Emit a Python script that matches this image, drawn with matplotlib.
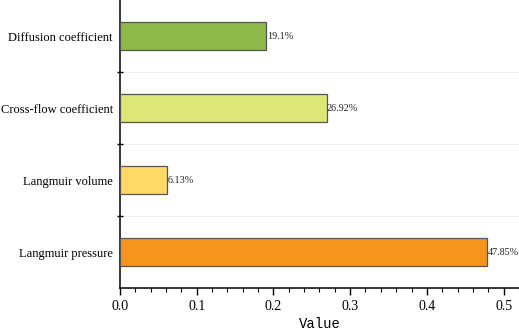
import matplotlib
matplotlib.use("Agg")
import matplotlib.pyplot as plt
from matplotlib.ticker import MultipleLocator, FixedLocator

# Datos (de abajo hacia arriba)
categories = ["Langmuir pressure", "Langmuir volume", "Cross-flow coefficient", "Diffusion coefficient"]
values = [0.4785, 0.0613, 0.2692, 0.191]
labels = ["47.85%", "6.13%", "26.92%", "19.1%"]
colors = ["#F7941D", "#FFD966", "#DCE775", "#8DB84A"]

plt.rcParams["font.family"] = ["Liberation Serif", "DejaVu Serif"]

fig = plt.figure(figsize=(5.19, 3.30), dpi=100)
ax = fig.add_axes([0.231, 0.127, 0.769, 0.873])

ypos = list(range(len(categories)))
ax.barh(ypos, values, height=0.4, color=colors, edgecolor="#555555", linewidth=0.9, zorder=3)
for y, v, t in zip(ypos, values, labels):
    ax.text(v + 0.0005, y, t, ha="left", va="center", fontsize=7.3, color="#222222", zorder=4)

ax.set_xlim(0, 0.52)
ax.set_ylim(-0.5, 3.5)
ax.set_yticks(ypos)
ax.set_yticklabels(categories, fontsize=9)
ax.tick_params(axis="y", which="major", length=0, pad=5)
ax.yaxis.set_minor_locator(FixedLocator([0.5, 1.5, 2.5]))
ax.tick_params(axis="y", which="minor", length=5, width=1, direction="inout")
ax.grid(axis="y", which="minor", color="#eeeeee", linewidth=0.8, zorder=0)

ax.xaxis.set_major_locator(MultipleLocator(0.1))
ax.xaxis.set_minor_locator(MultipleLocator(0.02))
ax.set_xticklabels([f"{t:.1f}" for t in ax.get_xticks()], fontsize=10)
ax.tick_params(axis="x", which="major", length=5, width=1, direction="out")
ax.tick_params(axis="x", which="minor", length=3, width=0.8, direction="out")
ax.set_xlabel("Value", fontsize=10, family=["Liberation Mono", "DejaVu Sans Mono"], labelpad=3)

for s in ["top", "right"]:
    ax.spines[s].set_visible(False)
for s in ["left", "bottom"]:
    ax.spines[s].set_linewidth(1.1)

fig.savefig("out.png", dpi=100)
